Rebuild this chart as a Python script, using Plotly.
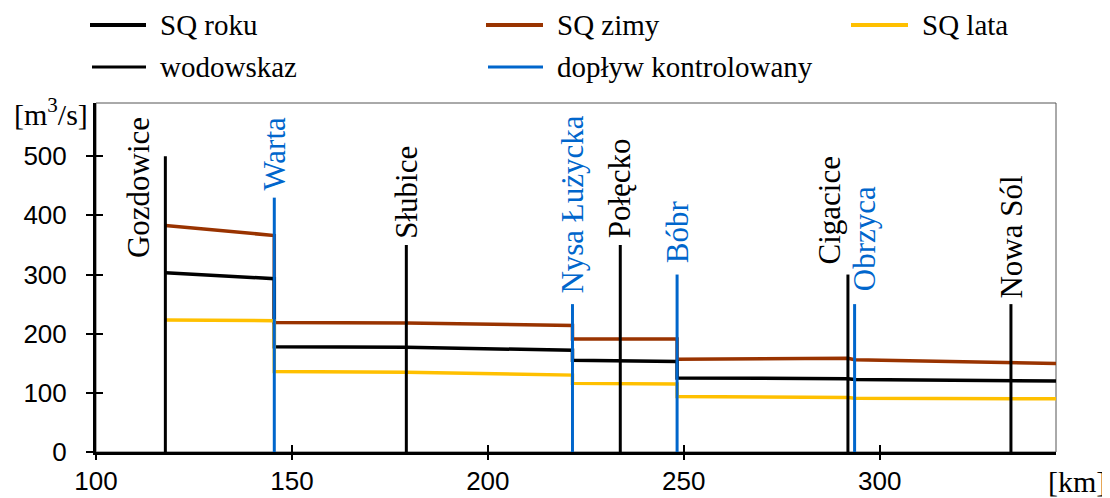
import plotly.graph_objects as go

# ---- data (km along river, flows in m3/s) ----
km_sq = [117.7, 145.5, 145.5, 179.2, 221.6, 221.6, 248.3, 248.3, 291.9, 293.6, 345.0]
sq_roku = [303, 293, 178, 177, 172, 155, 153, 125, 124, 122.5, 120]
sq_zimy = [383, 366, 219, 218, 214, 191, 191, 157, 158.5, 156, 149.5]
sq_lata = [223, 222, 136, 135, 130, 116, 115, 94, 92, 91, 90]

gauge_names = ["Gozdowice", "Słubice", "Połęcko", "Cigacice", "Nowa Sól"]
gauge_km = [117.7, 179.2, 233.8, 291.9, 333.5]
gauge_h = [500, 350, 350, 300, 250]

trib_names = ["Warta", "Nysa Łużycka", "Bóbr", "Obrzyca"]
trib_km = [145.5, 221.6, 248.3, 293.6]
trib_h = [430, 250, 300, 250]

x_ticks = [100, 150, 200, 250, 300]
y_ticks = [0, 100, 200, 300, 400, 500]

legend_labels = ["SQ roku", "SQ zimy", "SQ lata", "wodowskaz", "dopływ kontrolowany"]

# ---- styles ----
BLACK = "#000000"
BROWN = "#993300"
YELLOW = "#FFC000"
BLUE = "#0066CC"
SERIF = "Liberation Serif"
SANS = "Liberation Sans"

OFF = 8  # default page body margin
W, H = 1110 - OFF, 498 - OFF
L, R, T, B = 96 - OFF, 54, 103 - OFF, 46
PW, PH = W - L - R, H - T - B


def px2paper(px, py):
    # px, py are page pixels
    return (px - OFF - L) / PW, (H - B - (py - OFF)) / PH


fig = go.Figure()

for vals, col in [(sq_zimy, BROWN), (sq_roku, BLACK), (sq_lata, YELLOW)]:
    fig.add_trace(go.Scatter(x=km_sq, y=vals, mode="lines",
                             line=dict(color=col, width=3.5), showlegend=False,
                             hoverinfo="skip"))


def vlines(kms, hs):
    xs, ys = [], []
    for k, h in zip(kms, hs):
        xs += [k, k, None]
        ys += [0, h, None]
    return xs, ys


gx, gy = vlines(gauge_km, gauge_h)
fig.add_trace(go.Scatter(x=gx, y=gy, mode="lines", line=dict(color=BLACK, width=3),
                         showlegend=False, hoverinfo="skip"))
tx, ty = vlines(trib_km, trib_h)
fig.add_trace(go.Scatter(x=tx, y=ty, mode="lines", line=dict(color=BLUE, width=3),
                         showlegend=False, hoverinfo="skip"))

# invisible trace so the overlay axes (second half of the crossing ticks) get drawn
fig.add_trace(go.Scatter(x=km_sq[:1], y=sq_roku[:1], xaxis="x2", yaxis="y2",
                         mode="markers", marker=dict(opacity=0), showlegend=False,
                         hoverinfo="skip"))

# label offsets (pixels)
label_shift = {
    "Gozdowice": (-27, -104),
    "Warta": (0, 5),
    "Słubice": (0, 4),
    "Nysa Łużycka": (0, 9),
    "Połęcko": (0, 5),
    "Bóbr": (0, 9),
    "Cigacice": (-18, 8),
    "Obrzyca": (10, 11),
    "Nowa Sól": (1, 4),
}

annotations = []
for names, kms, hs, col in [(gauge_names, gauge_km, gauge_h, BLACK),
                            (trib_names, trib_km, trib_h, BLUE)]:
    for n, k, h in zip(names, kms, hs):
        dx, dy = label_shift.get(n, (0, 6))
        annotations.append(dict(x=k, y=h, xref="x", yref="y", text=n, textangle=-90,
                                showarrow=False, xanchor="center", yanchor="bottom",
                                xshift=dx, yshift=dy,
                                font=dict(family=SERIF, size=31, color=col)))

# axis unit labels
ux, uy = px2paper(51, 112)
annotations.append(dict(x=ux, y=uy, xref="paper", yref="paper", text="[m<sup>3</sup>/s]",
                        showarrow=False, xanchor="center", yanchor="middle",
                        font=dict(family=SERIF, size=30, color=BLACK)))
kx, ky = px2paper(1077, 481)
annotations.append(dict(x=kx, y=ky, xref="paper", yref="paper", text="[km]",
                        showarrow=False, xanchor="center", yanchor="middle",
                        font=dict(family=SERIF, size=30, color=BLACK)))

# manual legend
shapes = []
legend_items = [
    (legend_labels[0], BLACK, 4, 90, 146, 158, 25),
    (legend_labels[1], BROWN, 4, 486, 543, 555, 25),
    (legend_labels[2], YELLOW, 4, 851, 908, 920, 25),
    (legend_labels[3], BLACK, 3, 92, 146, 158, 67),
    (legend_labels[4], BLUE, 3, 488, 543, 555, 67),
]
for lab, col, w, x0, x1, xt, yy in legend_items:
    a0, b0 = px2paper(x0, yy)
    a1, _ = px2paper(x1, yy)
    shapes.append(dict(type="line", xref="paper", yref="paper", x0=a0, x1=a1, y0=b0, y1=b0,
                       line=dict(color=col, width=w)))
    at, _ = px2paper(xt, yy)
    annotations.append(dict(x=at, y=b0, xref="paper", yref="paper", text=lab, showarrow=False,
                            xanchor="left", yanchor="middle",
                            font=dict(family=SERIF, size=29, color=BLACK)))

# thin border (top/right)
shapes.append(dict(type="rect", xref="paper", yref="paper", x0=0, x1=1, y0=0, y1=1,
                   line=dict(color="#555555", width=1), layer="below"))

fig.update_layout(
    width=W, height=H,
    margin=dict(l=L, r=R, t=T, b=B, autoexpand=False),
    paper_bgcolor="white", plot_bgcolor="white",
    showlegend=False,
    annotations=annotations,
    shapes=shapes,
    xaxis=dict(range=[100, 345], tickvals=x_ticks, ticks="inside", ticklen=7,
               tickwidth=2, tickcolor=BLACK, showline=True, linecolor=BLACK, linewidth=3,
               showgrid=False, zeroline=False, ticklabelstandoff=4, automargin=False,
               tickfont=dict(family=SANS, size=26, color=BLACK)),
    yaxis=dict(range=[0, 590], tickvals=y_ticks, ticks="outside", ticklen=7,
               tickwidth=2, tickcolor=BLACK, showline=True, linecolor=BLACK, linewidth=3,
               showgrid=False, zeroline=False, ticklabelstandoff=14, automargin=False,
               tickfont=dict(family=SANS, size=26, color=BLACK)),
    xaxis2=dict(range=[100, 345], tickvals=x_ticks, ticks="outside", ticklen=7,
                tickwidth=2, tickcolor=BLACK, showticklabels=False, showline=False,
                showgrid=False, zeroline=False, overlaying="x", anchor="y", side="bottom",
                automargin=False),
    yaxis2=dict(range=[0, 590], tickvals=y_ticks, ticks="inside", ticklen=7,
                tickwidth=2, tickcolor=BLACK, showticklabels=False, showline=False,
                showgrid=False, zeroline=False, overlaying="y", anchor="x", side="left",
                automargin=False),
)

fig.write_html("out.html")
